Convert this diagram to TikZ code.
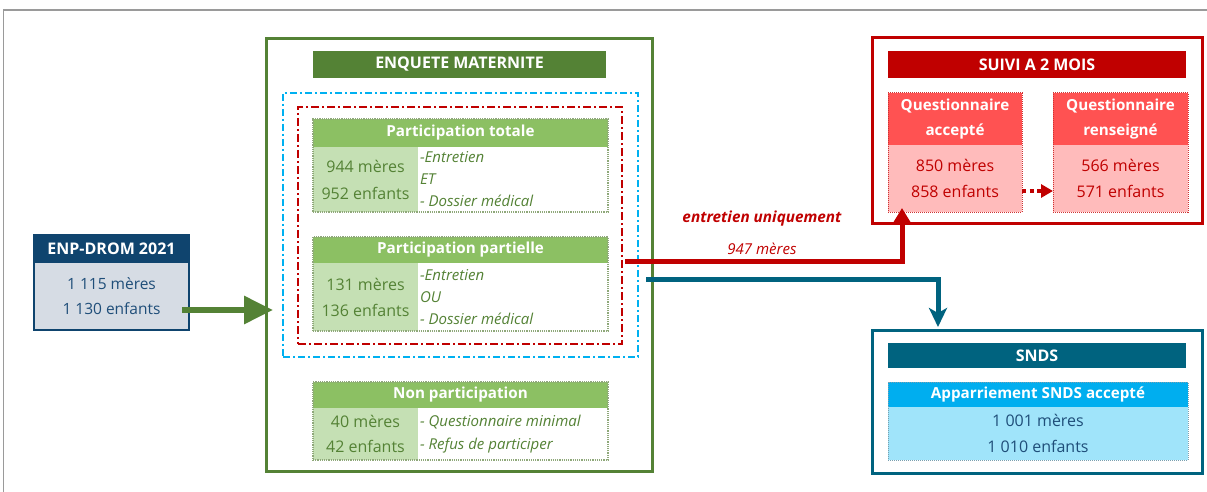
\documentclass[tikz,border=0pt]{standalone}
\usepackage{fontspec}
\setmainfont{Open Sans}
\usetikzlibrary{arrows.meta,calc}
\definecolor{gdark}{HTML}{548235}
\definecolor{ghead}{HTML}{8CC063}
\definecolor{glight}{HTML}{C5E0B4}
\definecolor{gdot}{HTML}{8FA87A}
\definecolor{rdark}{HTML}{C00000}
\definecolor{rhead}{HTML}{FF5252}
\definecolor{rlight}{HTML}{FFBBBB}
\definecolor{tealc}{HTML}{00637F}
\definecolor{chead}{HTML}{00AEEF}
\definecolor{clight}{HTML}{A0E4FA}
\definecolor{cdot}{HTML}{7AA0B0}
\definecolor{navy}{HTML}{0F446E}
\definecolor{enpgray}{HTML}{D6DCE4}
\definecolor{bodyblue}{HTML}{1F4E79}
\definecolor{cyandash}{HTML}{00B0F0}
\definecolor{framegray}{HTML}{9A9A9A}
\newcommand\boxnode[7]{\node[anchor=north west, minimum width={#4-#2}, minimum height={#5-#3}, #6] (#1) at (#2,#3) {#7};}
\begin{document}
\begin{tikzpicture}[x=1pt,y=-1pt,
  every node/.style={inner sep=0pt, outer sep=0pt, rectangle},
  hdr/.style={text=white, font=\bfseries\fontsize{15.2}{25}\selectfont, align=center},
  bodytxt/.style={font=\fontsize{16}{26}\selectfont, align=center},
  ittxt/.style={font=\itshape\fontsize{15}{22}\selectfont, align=left, anchor=west, text=gdark},
  gout/.style={draw=gdot, densely dotted, line width=1.2},
  rout/.style={draw=rdark!80, densely dotted, line width=1},
  cout/.style={draw=cdot, densely dotted, line width=1},
]
\useasboundingbox (0,0) rectangle (1207,492);
% frame
\draw[framegray, line width=1.5] (3.5,492) -- (3.5,10) -- (1207,10);

% ENP-DROM
\boxnode{enph}{34}{235}{189}{262}{fill=navy, draw=navy, line width=2, hdr, font=\bfseries\fontsize{16}{20}\selectfont}{ENP-DROM 2021}
\boxnode{enpb}{34}{262}{189}{330}{fill=enpgray, draw=navy, line width=2, bodytxt, text=bodyblue, font=\fontsize{15.5}{25}\selectfont}{1 115 mères\\1 130 enfants}

% ENQUETE MATERNITE
\boxnode{enq}{266}{39}{652}{471}{draw=gdark, line width=3}{}
\boxnode{enqh}{313}{51}{606}{78}{fill=gdark, hdr, font=\bfseries\fontsize{16}{20}\selectfont}{ENQUETE MATERNITE}
\boxnode{bluedash}{283}{93}{638}{357}{draw=cyandash, line width=2, dash pattern=on 7pt off 3pt on 2pt off 3pt}{}
\boxnode{reddash}{298}{107}{622}{344}{draw=rdark, line width=2, dash pattern=on 8pt off 3pt on 2pt off 3pt}{}

% Participation totale
\boxnode{pth}{313}{119}{608}{147}{fill=ghead, hdr}{Participation totale}
\boxnode{ptb}{313}{147}{608}{212}{fill=white}{}
\boxnode{ptl}{313}{147}{418}{212}{fill=glight, bodytxt, text=gdark, font=\fontsize{16}{27}\selectfont}{944 mères\\952 enfants}
\node[ittxt] (ptr) at (420,179) {-Entretien\\ET\\- Dossier médical};
\boxnode{pt}{313}{119}{608}{212}{gout}{}

% Participation partielle
\boxnode{pph}{313}{237}{608}{263}{fill=ghead, hdr}{Participation partielle}
\boxnode{ppb}{313}{263}{608}{331}{fill=white}{}
\boxnode{ppl}{313}{263}{418}{331}{fill=glight, bodytxt, text=gdark}{131 mères\\136 enfants}
\node[ittxt] (ppr) at (420,297) {-Entretien\\OU\\- Dossier médical};
\boxnode{pp}{313}{237}{608}{331}{gout}{}

% Non participation
\boxnode{nph}{313}{382}{608}{408}{fill=ghead, hdr}{Non participation}
\boxnode{npb}{313}{408}{608}{460}{fill=white}{}
\boxnode{npl}{313}{408}{418}{460}{fill=glight, bodytxt, text=gdark, font=\fontsize{16}{25}\selectfont}{40 mères\\42 enfants}
\node[ittxt, font=\itshape\fontsize{15}{23}\selectfont] (npr) at (420,434) {- Questionnaire minimal\\- Refus de participer};
\boxnode{np}{313}{382}{608}{460}{gout}{}

% SUIVI A 2 MOIS
\boxnode{suivi}{872}{38}{1202}{223}{draw=rdark, line width=3}{}
\boxnode{suivih}{888}{51}{1186}{78}{fill=rdark, hdr, font=\bfseries\fontsize{16}{20}\selectfont}{SUIVI A 2 MOIS}
\boxnode{qah}{888}{93}{1022}{145}{fill=rhead, hdr}{Questionnaire\\accepté}
\boxnode{qab}{888}{145}{1022}{212}{fill=rlight, bodytxt, text=rdark}{850 mères\\858 enfants}
\boxnode{qa}{888}{93}{1022}{212}{rout}{}
\boxnode{qrh}{1053}{93}{1188}{145}{fill=rhead, hdr}{Questionnaire\\renseigné}
\boxnode{qrb}{1053}{145}{1188}{212}{fill=rlight, bodytxt, text=rdark}{566 mères\\571 enfants}
\boxnode{qr}{1053}{93}{1188}{212}{rout}{}
\draw[rdark, line width=4, dash pattern=on 4pt off 3.5pt, -{Triangle[length=12pt,width=13pt]}]
  ([yshift=-12.5pt]qab.east) -- ([yshift=-12.5pt]qrb.west);

% SNDS
\boxnode{snds}{872}{330}{1202}{473}{draw=tealc, line width=3}{}
\boxnode{sndsh}{888}{343}{1186}{368}{fill=tealc, hdr, font=\bfseries\fontsize{16}{20}\selectfont}{SNDS}
\boxnode{aph}{888}{382}{1188}{407}{fill=chead, hdr}{Apparriement SNDS accepté}
\boxnode{apb}{888}{407}{1188}{460}{fill=clight, bodytxt, text=bodyblue}{1 001 mères\\1 010 enfants}
\boxnode{ap}{888}{382}{1188}{460}{cout}{}

% connectors
\coordinate (gs) at ([xshift=-7pt,yshift=-14pt]enpb.east);
\coordinate (ge) at (gs -| enq.west);
\draw[gdark, line width=6, -{Triangle[length=29pt,width=27pt]}] (gs) -- ([xshift=7pt]ge);

\coordinate (rs) at ([xshift=3pt,yshift=-35.5pt]reddash.east);
\coordinate (re) at ([xshift=14pt,yshift=4pt]qa.south west);
\draw[rdark, line width=5, -{Triangle[length=15pt,width=17pt]}] (rs) -| (re);

\coordinate (bs) at ([xshift=-6pt,yshift=-24pt]enq.east);
\coordinate (be) at ([xshift=66pt,yshift=3pt]snds.north west);
\draw[tealc, line width=5, -{Stealth[length=19pt,width=18pt,inset=5pt]}] (bs) -| (be);

\node[text=rdark, font=\bfseries\itshape\fontsize{15.3}{18}\selectfont] (lab1) at (762,219) {entretien uniquement};
\node[text=rdark, font=\itshape\fontsize{15}{18}\selectfont] (lab2) at (762,249) {947 mères};
\end{tikzpicture}
\end{document}
